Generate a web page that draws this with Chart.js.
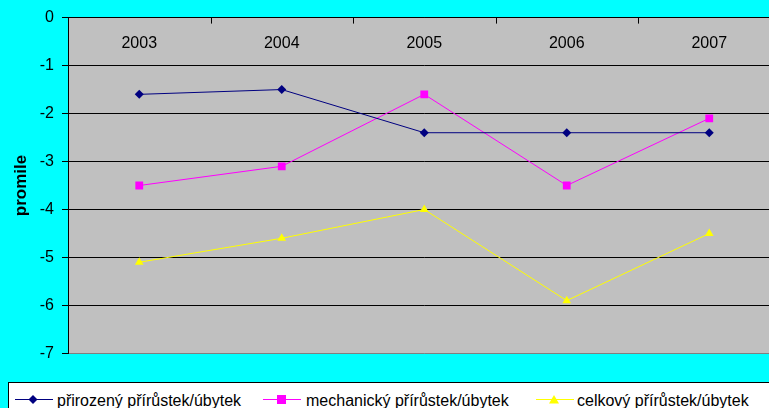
<!DOCTYPE html>
<html>
<head>
<meta charset="utf-8">
<script src="https://cdn.jsdelivr.net/npm/chart.js@4/dist/chart.umd.min.js"></script>
<style>
	html, body { margin: 0; padding: 0; background: #00ffff; overflow: hidden; width: 769px; height: 408px; }
	#wrap { position: relative; width: 769px; height: 408px; overflow: hidden; }
	#c { position: absolute; left: 0; top: 0; }
	#legend { position: absolute; left: 8px; top: 382px; width: 780px; height: 40px; border: 1px solid #000; background: #fff;
		font: 16px "Liberation Sans", Arial, sans-serif; color: #000; }
	.item { position: absolute; top: 8px; height: 20px; line-height: 20px; white-space: nowrap; }
	.item svg { position: absolute; top: 4px; }
	.item span { position: absolute; top: 0; }
</style>
</head>
<body>
<div id="wrap">
	<canvas id="c" width="786" height="371"></canvas>
	<div id="legend"></div>
</div>
<script>
const years = ['2003', '2004', '2005', '2006', '2007'];
const natural = [-1.6, -1.5, -2.4, -2.4, -2.4];
const migration = [-3.5, -3.1, -1.6, -3.5, -2.1];
const total = [-5.1, -4.6, -4.0, -5.9, -4.5];
const seriesNames = ['přirozený přírůstek/úbytek', 'mechanický přírůstek/úbytek', 'celkový přírůstek/úbytek'];
const yTicks = [0, -1, -2, -3, -4, -5, -6, -7];

const font = '"Liberation Sans", Arial, sans-serif';
const colors = ['#000080', '#ff00ff', '#ffff00'];
const markers = ['rectRot', 'rect', 'triangle'];
const radii = [4.5, 5.5, 5];

// gray plot area
const plotBg = {
	id: 'plotBg',
	beforeDraw(chart) {
		const a = chart.chartArea, ctx = chart.ctx;
		ctx.save();
		ctx.fillStyle = '#c0c0c0';
		ctx.fillRect(a.left, a.top, a.right - a.left, a.bottom - a.top);
		ctx.restore();
	}
};

// category labels sit inside the plot, under the top axis, ticks point inward
const innerLabels = {
	id: 'innerLabels',
	afterDraw(chart) {
		const x = chart.scales.x, a = chart.chartArea, ctx = chart.ctx;
		ctx.save();
		ctx.fillStyle = '#000';
		ctx.font = `16px ${font}`;
		ctx.textAlign = 'center';
		ctx.textBaseline = 'middle';
		years.forEach((y, i) => ctx.fillText(y, x.getPixelForValue(i), a.top + 26));
		ctx.strokeStyle = '#000';
		ctx.lineWidth = 1;
		ctx.beginPath();
		for (let i = 1; i < years.length; i++) {
			const px = Math.round(x.getPixelForValue(i - 0.5)) + 0.5;
			ctx.moveTo(px, a.top);
			ctx.lineTo(px, a.top + 6);
		}
		ctx.stroke();
		ctx.restore();
	}
};

function dataset(i, values) {
	return {
		label: seriesNames[i],
		data: values,
		borderColor: colors[i],
		backgroundColor: colors[i],
		borderWidth: 1,
		pointStyle: markers[i],
		pointRadius: radii[i],
		pointBorderWidth: 0,
		tension: 0,
	};
}

new Chart(document.getElementById('c').getContext('2d'), {
	type: 'line',
	data: {
		labels: years,
		datasets: [dataset(0, natural), dataset(1, migration), dataset(2, total)],
	},
	options: {
		responsive: false,
		animation: false,
		devicePixelRatio: 1,
		layout: { padding: 0 },
		plugins: { legend: { display: false }, tooltip: { enabled: false } },
		scales: {
			x: {
				position: 'top',
				offset: true,
				grid: { display: false },
				border: { color: '#000', width: 1 },
				ticks: { display: false },
				afterFit(s) { s.height = 17; },
			},
			y: {
				min: -7,
				max: 0,
				afterBuildTicks(s) { s.ticks = yTicks.map(v => ({ value: v })); },
				grid: {
					color: ctx => ctx.tick && ctx.tick.value === -7 ? '#808080' : '#000',
					tickColor: '#000',
					tickLength: 6,
				},
				border: { color: '#000', width: 1 },
				ticks: { color: '#000', font: { family: font, size: 16 }, padding: 8 },
				title: { display: true, text: 'promile', color: '#000', font: { family: font, size: 17, weight: 'bold' }, padding: { top: 11, bottom: 0 } },
				afterFit(s) { s.width = 68; },
			},
		},
	},
	plugins: [plotBg, innerLabels],
});

// legend with line + marker samples
const legendPos = [[6, 48], [254, 297], [527, 568]];
const shapes = [
	c => `<polygon points="18,0 22.5,4.5 18,9 13.5,4.5" fill="${c}"/>`,
	c => `<rect x="14" y="0" width="9" height="9" fill="${c}"/>`,
	c => `<polygon points="18,0 23,8.5 13,8.5" fill="${c}"/>`,
];
const legend = document.getElementById('legend');
seriesNames.forEach((name, i) => {
	const item = document.createElement('div');
	item.className = 'item';
	item.style.left = legendPos[i][0] + 'px';
	item.innerHTML =
		`<svg width="38" height="10" style="left:0"><line x1="0" y1="4.5" x2="38" y2="4.5" stroke="${colors[i]}" stroke-width="1"/>${shapes[i](colors[i])}</svg>` +
		`<span style="left:${legendPos[i][1] - legendPos[i][0]}px">${name}</span>`;
	legend.appendChild(item);
});
</script>
</body>
</html>
